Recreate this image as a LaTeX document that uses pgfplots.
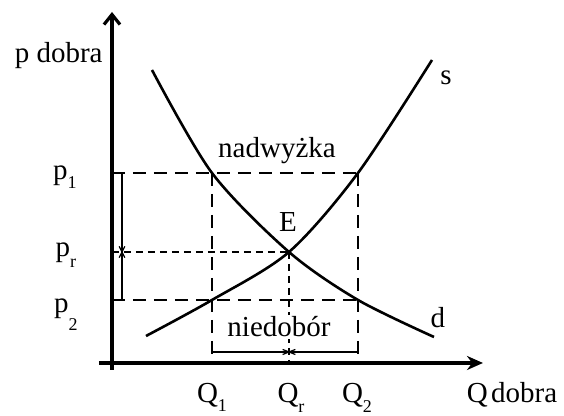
\documentclass[border=0pt]{standalone}
\usepackage{pgfplots}
\pgfplotsset{compat=1.18}
\usepackage{fontspec}
\setmainfont{Liberation Serif}
\usetikzlibrary{arrows.meta}
% subscript lowered by #1
\newcommand\sub[2][2.5pt]{\raisebox{-#1}{\fontsize{9}{9}\selectfont #2}}
\newcommand\lab{\fontsize{14.5}{17}\selectfont}
\begin{document}
\begin{tikzpicture}[lbl/.style={font=\lab, inner sep=0pt}]
\begin{axis}[
  x=0.5pt, y=0.5pt,
  xmin=-13, xmax=371, ymin=-7, ymax=351,
  axis lines=middle, ticks=none, clip=false,
  x axis line style={line width=1.6pt, -{Stealth[length=8pt,width=7pt]}},
  y axis line style={line width=1.6pt, -{Straight Barb[length=5pt,width=8pt]}},
]
% guide lines (long dashes)
\addplot[black, line width=0.8pt, dash pattern=on 6.5pt off 4pt] coordinates {(0,190) (246,190)};
\addplot[black, line width=0.8pt, dash pattern=on 6.5pt off 4pt] coordinates {(0,63) (246,63)};
\addplot[black, line width=0.8pt, dash pattern=on 6.5pt off 4pt] coordinates {(100,190) (100,0)};
\addplot[black, line width=0.8pt, dash pattern=on 6.5pt off 4pt] coordinates {(246,190) (246,0)};
% equilibrium lines (short dashes)
\addplot[black, line width=0.8pt, dash pattern=on 3.3pt off 2.7pt] coordinates {(0,111) (177,111)};
\addplot[black, line width=0.8pt, dash pattern=on 3.3pt off 2.7pt] coordinates {(177,111) (177,0)};
% brackets
\addplot[black, line width=0.6pt] coordinates {(0,190) (10,190) (10,63) (0,63)};
\addplot[black, line width=0.6pt, mark=x, mark size=4pt, mark options={xscale=0.5}] coordinates {(10,111)};
\addplot[black, line width=0.6pt] coordinates {(100,11) (246,11)};
\addplot[black, line width=0.6pt, mark=x, mark size=4.5pt, mark options={yscale=0.4}] coordinates {(177,11)};
% demand d
\addplot[black, line width=1.3pt, smooth] coordinates {(40,293) (100,190) (177,111) (246,63) (322,26)};
% supply s
\addplot[black, line width=1.3pt, smooth] coordinates {(34,27) (100,63) (177,111) (246,190) (320,303)};
% labels
\node[lbl, anchor=base east] at (axis cs:-9,300) {p dobra};
\node[lbl, anchor=base] at (axis cs:400,-40) {Q\hspace{0.12em}dobra};
\node[lbl, anchor=base] at (axis cs:-47,183) {p\sub[4.5pt]{1}};
\node[lbl, anchor=base] at (axis cs:-46,106) {p\sub[5.5pt]{r}};
\node[lbl, anchor=base] at (axis cs:-46,50) {p\sub[9pt]{2}};
\node[lbl, anchor=base] at (axis cs:100,-40) {Q\sub[4.5pt]{1}};
\node[lbl, anchor=base] at (axis cs:179,-40) {Q\sub[5pt]{r}};
\node[lbl, anchor=base] at (axis cs:245,-40) {Q\sub[5pt]{2}};
\node[lbl, anchor=base] at (axis cs:165,205) {nadwyżka};
\node[lbl, anchor=base] at (axis cs:176,131) {E};
\node[lbl, anchor=base, fill=white, inner sep=1pt] at (axis cs:167,26) {niedobór};
\node[lbl, anchor=base] at (axis cs:334,278) {s};
\node[lbl, anchor=base] at (axis cs:326,35) {d};
\coordinate (bl) at (axis cs:-112,-53);
\coordinate (tr) at (axis cs:452,363);
\end{axis}
\pgfresetboundingbox
\path[use as bounding box] (bl) rectangle (tr);
\end{tikzpicture}
\end{document}
